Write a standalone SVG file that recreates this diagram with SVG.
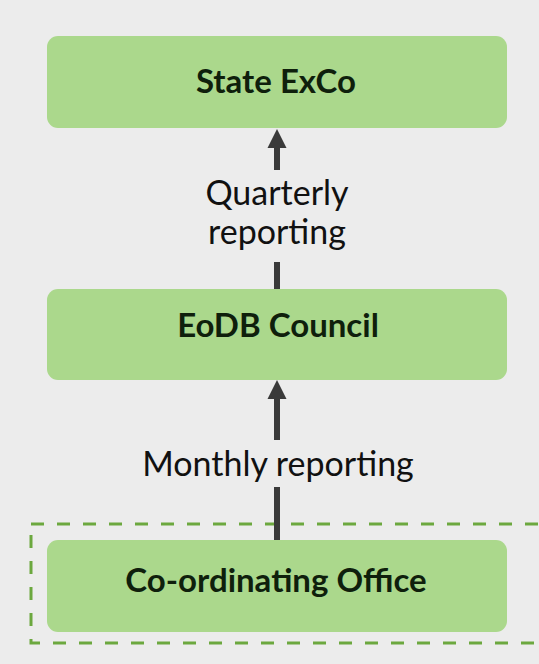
<svg xmlns="http://www.w3.org/2000/svg" width="539" height="664" viewBox="0 0 539 664">
  <style>
    .box { fill: #abd88c; }
    .title { font-family: Lato, "Open Sans", "Liberation Sans", sans-serif; font-weight: bold; font-size: 33px; fill: #0f1f0c; text-anchor: middle; }
    .label { font-family: Lato, "Open Sans", "Liberation Sans", sans-serif; font-size: 34px; fill: #111; text-anchor: middle; }
    .conn { stroke: #3a3a3a; stroke-width: 6; fill: none; }
    .dash { stroke: #6ca83f; stroke-width: 3; fill: none; stroke-dasharray: 13 13; }
  </style>
  <defs>
    <marker id="arrow" markerUnits="userSpaceOnUse" markerWidth="20" markerHeight="20" viewBox="0 0 20 20" refX="0" refY="10" orient="auto">
      <path d="M0,0.5 L19,10 L0,19.5 Z" fill="#3a3a3a"/>
    </marker>
  </defs>
  <rect x="0" y="0" width="539" height="664" fill="#ececec"/>
  <g id="group-coordinating">
    <rect class="dash" x="31" y="524" width="530" height="119"/>
  </g>
  <g id="connectors">
    <path class="conn" d="M277,289 V262 M277,170 V148" marker-end="url(#arrow)"/>
    <path class="conn" d="M277,540 V487 M277,440 V399" marker-end="url(#arrow)"/>
    <text class="label" x="277" y="205">Quarterly</text>
    <text class="label" x="277" y="244">reporting</text>
    <text class="label" x="278" y="476">Monthly reporting</text>
  </g>
  <g id="state-exco">
    <rect class="box" x="47" y="36" width="460" height="92" rx="11"/>
    <text class="title" x="276" y="93">State ExCo</text>
  </g>
  <g id="eodb-council">
    <rect class="box" x="47" y="289" width="460" height="91" rx="11"/>
    <text class="title" x="278" y="337">EoDB Council</text>
  </g>
  <g id="coordinating-office">
    <rect class="box" x="47" y="540" width="460" height="92" rx="11"/>
    <text class="title" x="276" y="592">Co-ordinating Office</text>
  </g>
</svg>
